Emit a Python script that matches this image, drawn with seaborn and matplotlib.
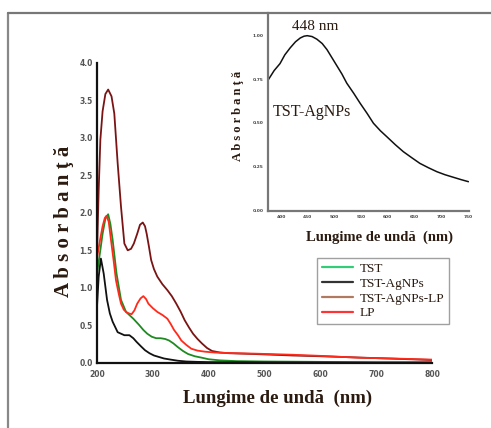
import numpy as np
import pandas as pd
import matplotlib
matplotlib.use("Agg")
import matplotlib.pyplot as plt
from matplotlib.lines import Line2D
import seaborn as sns

# ---------------- data ----------------
series_names = ["TST", "TST-AgNPs", "TST-AgNPs-LP", "LP"]

tst_x = [200, 205, 210, 215, 220, 224, 228, 235, 243, 252, 265, 275, 283, 290, 298, 306, 314, 322,
         329, 337, 345, 354, 363, 375, 388, 400, 420, 450, 500, 600, 700, 800]
tst_y = [1.19, 1.45, 1.72, 1.92, 1.98, 1.85, 1.64, 1.19, 0.84, 0.68, 0.59, 0.51, 0.44, 0.39, 0.35,
         0.33, 0.33, 0.32, 0.30, 0.26, 0.21, 0.16, 0.12, 0.09, 0.07, 0.05, 0.035, 0.025, 0.02,
         0.015, 0.01, 0.01]

ag_x = [200, 203, 207, 212, 218, 223, 228, 237, 249, 258, 265, 271, 279, 286, 294, 302, 311, 320,
        332, 345, 360, 380, 400, 450, 500, 600, 700, 800]
ag_y = [0.75, 1.15, 1.39, 1.19, 0.84, 0.66, 0.55, 0.41, 0.37, 0.37, 0.33, 0.28, 0.22, 0.17, 0.13,
        0.10, 0.08, 0.06, 0.045, 0.03, 0.02, 0.015, 0.012, 0.01, 0.008, 0.006, 0.005, 0.005]

aglp_x = [200, 203, 206, 210, 215, 220, 226, 231, 237, 243, 249, 255, 261, 266, 272, 277, 282, 286,
          289, 293, 297, 302, 308, 317, 326, 334, 342, 350, 357, 365, 372, 380, 388, 397, 406, 420,
          437, 480, 550, 600, 700, 800]
aglp_y = [1.46, 2.3, 2.97, 3.35, 3.58, 3.64, 3.55, 3.32, 2.66, 2.08, 1.59, 1.50, 1.52, 1.59, 1.72,
          1.84, 1.87, 1.82, 1.72, 1.55, 1.37, 1.25, 1.15, 1.05, 0.97, 0.89, 0.79, 0.68, 0.57, 0.47,
          0.39, 0.32, 0.26, 0.20, 0.16, 0.14, 0.13, 0.12, 0.10, 0.09, 0.065, 0.04]

lp_x = [200, 205, 210, 214, 217, 221, 225, 230, 234, 239, 243, 248, 252, 257, 262, 267, 272, 278,
        283, 288, 292, 300, 308, 317, 326, 332, 338, 345, 351, 360, 369, 380, 394, 410, 425, 480,
        550, 600, 670, 730, 800]
lp_y = [1.40, 1.62, 1.82, 1.93, 1.96, 1.88, 1.64, 1.35, 1.10, 0.92, 0.79, 0.71, 0.68, 0.66, 0.65,
        0.70, 0.79, 0.86, 0.89, 0.85, 0.79, 0.73, 0.68, 0.64, 0.59, 0.52, 0.44, 0.37, 0.30, 0.24,
        0.19, 0.165, 0.15, 0.14, 0.135, 0.125, 0.11, 0.095, 0.07, 0.06, 0.045]

inset_x = [376, 387, 398, 407, 417, 427, 436, 443, 449, 458, 467, 477, 486, 495, 504, 514, 523, 536,
           548, 561, 573, 586, 598, 614, 629, 645, 660, 676, 692, 707, 723, 737, 751]
inset_y = [0.747, 0.80, 0.84, 0.89, 0.93, 0.965, 0.987, 0.997, 1.0, 0.995, 0.98, 0.955, 0.92, 0.875,
           0.83, 0.78, 0.728, 0.67, 0.613, 0.555, 0.498, 0.455, 0.421, 0.375, 0.335, 0.30, 0.268,
           0.243, 0.22, 0.203, 0.188, 0.175, 0.163]

main_xticks = [200, 300, 400, 500, 600, 700, 800]
main_yticks = [0.0, 0.5, 1.0, 1.5, 2.0, 2.5, 3.0, 3.5, 4.0]
inset_xticks = [400, 450, 500, 550, 600, 650, 700, 750]
inset_yticks = [0.00, 0.25, 0.50, 0.75, 1.00]

line_colors = {"TST": "#1f8a22", "TST-AgNPs": "#111111", "TST-AgNPs-LP": "#7a1414", "LP": "#ff2a1a"}
legend_colors = {"TST": "#33cc77", "TST-AgNPs": "#333333", "TST-AgNPs-LP": "#b07a60", "LP": "#ff3333"}

# ---------------- build table ----------------
frames = []
for name, xs, ys in [("TST", tst_x, tst_y), ("TST-AgNPs", ag_x, ag_y),
                     ("TST-AgNPs-LP", aglp_x, aglp_y), ("LP", lp_x, lp_y)]:
    frames.append(pd.DataFrame({"wl": xs, "abs": ys, "sample": name}))
df = pd.concat(frames, ignore_index=True)
df_inset = pd.DataFrame({"wl": inset_x, "abs": inset_y})

sns.set_theme(style="white")
plt.rcParams["font.family"] = ["DejaVu Sans"]

W, H = 491, 428
fig = plt.figure(figsize=(W / 100, H / 100), dpi=100)
fig.patch.set_facecolor("white")

def fx(px):
    return px / W

def fy(py):
    return 1 - py / H

label_color = "#2a1a10"
serif = ["Liberation Serif", "DejaVu Serif"]

# ---------------- main axes ----------------
ax = fig.add_axes([fx(97), fy(363), fx(432) - fx(97), fy(62.5) - fy(363)])
sns.lineplot(data=df, x="wl", y="abs", hue="sample", hue_order=series_names,
             palette=line_colors, estimator=None, sort=False, lw=1.3, ax=ax, legend=False)
ax.set_xlim(200, 800)
ax.set_ylim(0, 4.0)
ax.set_xticks(main_xticks)
ax.set_yticks(main_yticks)
ax.set_yticklabels([f"{v:.1f}" for v in main_yticks])
ax.tick_params(axis="both", length=0, labelsize=5.5, labelcolor="#555555")
ax.tick_params(axis="y", pad=3)
ax.tick_params(axis="x", pad=5)
for lab in ax.get_xticklabels() + ax.get_yticklabels():
    lab.set_fontweight("bold")
for s in ["top", "right"]:
    ax.spines[s].set_visible(False)
for s in ["left", "bottom"]:
    ax.spines[s].set_color("#111111")
    ax.spines[s].set_linewidth(1.6)
ax.set_xlabel("")
ax.set_ylabel("")
ax.patch.set_alpha(0)

fig.text(fx(278), fy(398), "Lungime de undă  (nm)", ha="center", va="center",
         fontsize=13.5, fontweight="bold", family=serif, color=label_color)
fig.text(fx(64), fy(221), "A b s o r b a n ţ ă", ha="center", va="center", rotation=90,
         fontsize=15, fontweight="bold", family=serif, color=label_color)

handles = [Line2D([0], [0], color=legend_colors[n], lw=1.6) for n in series_names]
leg = fig.legend(handles, series_names, loc="upper left",
                 bbox_to_anchor=(fx(317), fy(258)), bbox_transform=fig.transFigure,
                 prop={"family": serif, "size": 9.5}, frameon=True, fancybox=False,
                 handlelength=2.4, labelspacing=0.2, borderpad=0.35, handletextpad=0.5,
                 borderaxespad=0)
leg.get_frame().set_edgecolor("#888888")
leg.get_frame().set_linewidth(1.0)
for t in leg.get_texts():
    t.set_color(label_color)

# ---------------- inset ----------------
axi = fig.add_axes([fx(268), fy(211), fx(469) - fx(268), fy(13) - fy(211)])
sns.lineplot(data=df_inset, x="wl", y="abs", color="#111111", lw=1.1, ax=axi)
axi.set_xlim(375.5, 752)
axi.set_ylim(-0.005, 1.13)
axi.set_xticks(inset_xticks)
axi.set_yticks(inset_yticks)
axi.set_yticklabels([f"{v:.2f}" for v in inset_yticks])
axi.tick_params(axis="both", length=0, labelsize=3.2, labelcolor="#444444", pad=3)
for lab in axi.get_xticklabels() + axi.get_yticklabels():
    lab.set_fontweight("bold")
for s in ["top", "right"]:
    axi.spines[s].set_visible(False)
for s in ["left", "bottom"]:
    axi.spines[s].set_color("#777777")
    axi.spines[s].set_linewidth(1.6)
axi.set_xlabel("")
axi.set_ylabel("")
axi.patch.set_alpha(0)

fig.text(fx(380), fy(237), "Lungime de undă  (nm)", ha="center", va="center",
         fontsize=10.5, fontweight="bold", family=serif, color=label_color)
fig.text(fx(238), fy(116), "A b s o r b a n ţ ă", ha="center", va="center", rotation=90,
         fontsize=9, fontweight="bold", family=serif, color=label_color)
fig.text(fx(315), fy(27), "448 nm", ha="center", va="center",
         fontsize=11, family=serif, color=label_color)
fig.text(fx(273), fy(112), "TST-AgNPs", ha="left", va="center",
         fontsize=11.5, family=serif, color=label_color)

# ---------------- figure border ----------------
fig.add_artist(Line2D([fx(8), fx(8)], [0, fy(13)], transform=fig.transFigure,
                      color="#888888", lw=1.6))
fig.add_artist(Line2D([fx(8), 1], [fy(13), fy(13)], transform=fig.transFigure,
                      color="#777777", lw=1.6))

fig.savefig("out.png", dpi=100, facecolor="white")
